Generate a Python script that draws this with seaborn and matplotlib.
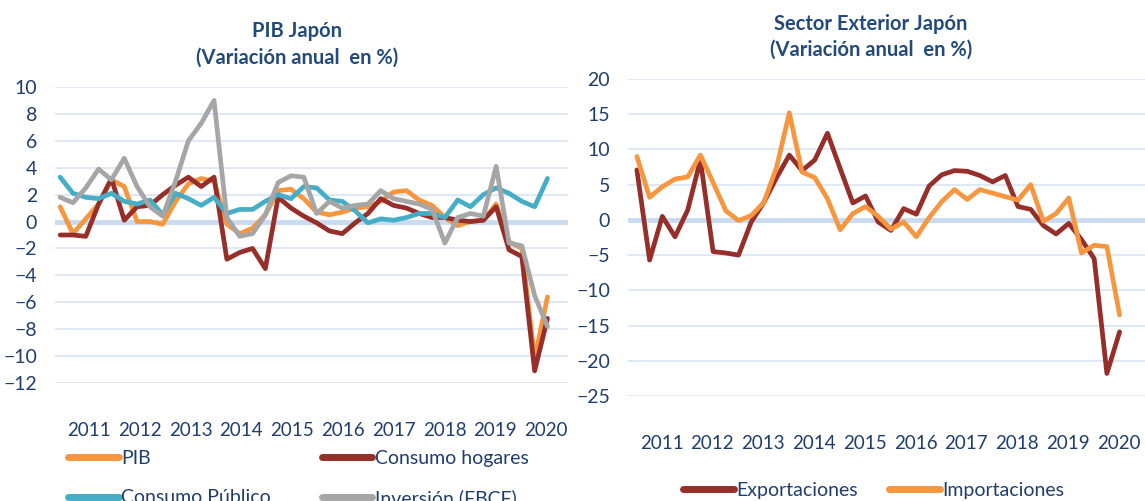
import numpy as np
import pandas as pd
import seaborn as sns
import matplotlib.pyplot as plt

# Quarterly data (index 0..38)
years = ['2011', '2012', '2013', '2014', '2015', '2016', '2017', '2018', '2019', '2020']

pib = [1.1, -0.9, 0.2, 1.3, 3.1, 2.6, 0.0, 0.0, -0.2, 1.5, 2.8, 3.2, 3.0, -0.2, -0.9, -0.5,
       0.5, 2.3, 2.4, 1.7, 0.7, 0.5, 0.7, 1.0, 1.1, 1.5, 2.2, 2.3, 1.6, 1.2, 0.3, -0.3,
       0.0, 0.1, 1.3, -1.5, -2.0, -10.2, -5.6]
hogares = [-1.0, -1.0, -1.1, 1.3, 3.2, 0.1, 1.1, 1.2, 2.0, 2.7, 3.3, 2.6, 3.3, -2.8, -2.3, -2.0,
           -3.5, 1.8, 1.0, 0.4, -0.1, -0.7, -0.9, -0.1, 0.6, 1.7, 1.2, 1.0, 0.6, 0.3, 0.3, 0.1,
           0.0, 0.1, 1.1, -2.1, -2.6, -11.1, -7.2]
publico = [3.3, 2.1, 1.8, 1.7, 2.1, 1.5, 1.3, 1.6, 0.5, 2.1, 1.7, 1.2, 1.8, 0.6, 0.9, 0.9,
           1.5, 2.0, 1.7, 2.6, 2.5, 1.6, 1.5, 0.8, -0.1, 0.2, 0.1, 0.3, 0.6, 0.6, 0.3, 1.6,
           1.1, 2.0, 2.5, 2.1, 1.5, 1.1, 3.2]
inversion = [1.8, 1.4, 2.5, 3.9, 3.1, 4.7, 2.6, 1.1, 0.4, 3.0, 6.0, 7.3, 9.0, 0.3, -1.1, -0.9,
             0.5, 2.9, 3.4, 3.3, 0.6, 1.5, 1.0, 1.2, 1.3, 2.3, 1.7, 1.5, 1.3, 0.9, -1.6, 0.3,
             0.6, 0.4, 4.1, -1.6, -1.8, -5.5, -7.8]

exportaciones = [7.1, -5.7, 0.5, -2.4, 1.4, 8.5, -4.5, -4.7, -5.0, -0.3, 2.5, 6.0, 9.2, 7.0, 8.5, 12.3,
                 7.3, 2.4, 3.4, -0.3, -1.5, 1.6, 0.8, 4.8, 6.4, 7.0, 6.9, 6.3, 5.4, 6.3, 1.9, 1.5,
                 -0.8, -2.0, -0.5, -2.8, -5.5, -21.8, -15.9]
importaciones = [9.0, 3.2, 4.7, 5.8, 6.1, 9.2, 5.3, 1.3, -0.1, 0.6, 2.5, 7.5, 15.2, 6.8, 6.0, 3.0,
                 -1.4, 0.9, 1.9, 0.5, -1.3, -0.3, -2.4, 0.3, 2.6, 4.3, 2.9, 4.3, 3.8, 3.3, 2.8, 5.0,
                 -0.2, 0.9, 3.1, -4.7, -3.6, -3.8, -13.5]

q = np.arange(len(pib))
df1 = pd.DataFrame({'q': q, 'PIB': pib, 'Consumo hogares': hogares,
                    'Consumo Público': publico, 'Inversión (FBCF)': inversion})
df2 = pd.DataFrame({'q': q, 'Exportaciones': exportaciones, 'Importaciones': importaciones})

sns.set_style('white')
plt.rcParams['font.family'] = ['Lato', 'DejaVu Sans']

navy = '#1F3D6E'
title_c = '#234A7C'
grid_c = '#D9E5F3'
zero_c = '#C9DBF0'
colors = {'PIB': '#F7963F', 'Consumo hogares': '#962E2A',
          'Consumo Público': '#45AEC6', 'Inversión (FBCF)': '#A6A6A6',
          'Exportaciones': '#962E2A', 'Importaciones': '#F7963F'}

fig = plt.figure(figsize=(11.45, 5.01), dpi=100)
W, H = 1145, 501

ax1 = fig.add_axes([55 / W, 1 - 383 / H, 513 / W, 296 / H])
ax2 = fig.add_axes([628 / W, 1 - 396 / H, 517 / W, 317 / H])


def style_axis(ax, yticks, xt):
    for s in ax.spines.values():
        s.set_visible(False)
    ax.set_yticks(yticks)
    ax.set_ylim(yticks[0], yticks[-1])
    for v in yticks:
        if v != 0:
            ax.axhline(v, color=grid_c, lw=1.2, zorder=0)
    ax.axhline(0, color=zero_c, lw=3.5, zorder=0)
    ax.set_xticks(xt)
    ax.set_xticklabels(years)
    ax.tick_params(axis='x', length=0, pad=28, labelsize=13.5, labelcolor=navy)
    ax.tick_params(axis='y', length=0, pad=13, labelsize=14, labelcolor=navy)
    ax.set_xlabel('')
    ax.set_ylabel('')


# Left panel
for name in ['PIB', 'Consumo hogares', 'Consumo Público', 'Inversión (FBCF)']:
    sns.lineplot(data=df1, x='q', y=name, ax=ax1, color=colors[name], lw=3.4,
                 label=name, solid_joinstyle='round', solid_capstyle='round', zorder=3)
ax1.set_xlim(-0.4, 39.6)
style_axis(ax1, list(range(-12, 11, 2)), np.arange(10) * 3.96 + 2.25)
h, l = ax1.get_legend_handles_labels()
order = [0, 2, 1, 3]
leg1 = ax1.legend([h[i] for i in order], [l[i] for i in order], ncol=2, frameon=False,
                  loc='upper left', bbox_to_anchor=(68 / W, 1 - 450 / H),
                  bbox_transform=fig.transFigure, borderaxespad=0, borderpad=0,
                  fontsize=14, handlelength=2.6, handletextpad=0.15,
                  columnspacing=2.6, labelspacing=1.15, labelcolor=navy)
for ln in leg1.get_lines():
    ln.set_linewidth(5)

# Right panel
for name in ['Exportaciones', 'Importaciones']:
    sns.lineplot(data=df2, x='q', y=name, ax=ax2, color=colors[name], lw=3.4,
                 label=name, solid_joinstyle='round', solid_capstyle='round', zorder=3)
ax2.set_xlim(-0.7, 40.0)
style_axis(ax2, list(range(-25, 21, 5)), np.arange(10) * 4.0 + 1.94)
leg2 = ax2.legend(ncol=2, frameon=False, loc='upper left',
                  bbox_to_anchor=(683 / W, 1 - 482 / H), bbox_transform=fig.transFigure,
                  borderaxespad=0, borderpad=0, fontsize=14, handlelength=2.6,
                  handletextpad=0.15, columnspacing=1.6, labelcolor=navy)
for ln in leg2.get_lines():
    ln.set_linewidth(5)

# Titles
fig.text(297 / W, 1 - 31 / H, 'PIB Japón', ha='center', va='center',
         fontsize=14.5, fontweight='bold', color=title_c)
fig.text(297 / W, 1 - 58 / H, '(Variación anual  en %)', ha='center', va='center',
         fontsize=14.5, fontweight='bold', color=title_c)
fig.text(871 / W, 1 - 24 / H, 'Sector Exterior Japón', ha='center', va='center',
         fontsize=14.5, fontweight='bold', color=title_c)
fig.text(871 / W, 1 - 50 / H, '(Variación anual  en %)', ha='center', va='center',
         fontsize=14.5, fontweight='bold', color=title_c)

fig.savefig('out.png', dpi=100)
